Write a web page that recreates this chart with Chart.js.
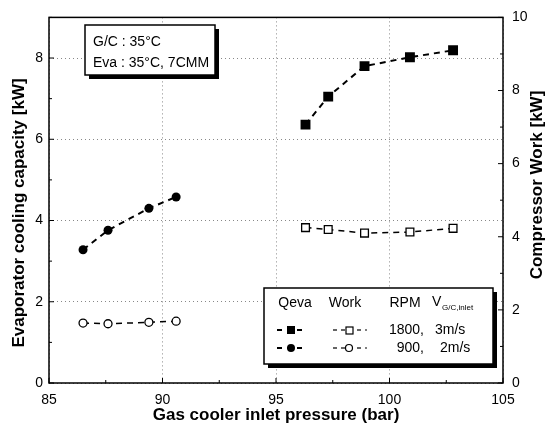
<!DOCTYPE html>
<html>
<head>
<meta charset="utf-8">
<script src="https://cdn.jsdelivr.net/npm/chart.js@4.4.0/dist/chart.umd.min.js"></script>
<style>
  body { margin: 0; background: #fff; }
  #wrap { width: 556px; height: 432px; }
</style>
</head>
<body>
<div id="wrap"><canvas id="chart" width="556" height="432"></canvas></div>
<script>
// pressure (bar) per run
const pressure1800 = [96.3, 97.3, 98.9, 100.9, 102.8];
const pressure900 = [86.5, 87.6, 89.4, 90.6];
// evaporator cooling capacity [kW], left axis
const qeva1800 = [6.36, 7.05, 7.8, 8.02, 8.19];
const qeva900 = [3.28, 3.76, 4.3, 4.58];
// compressor work [kW], right axis
const work1800 = [4.25, 4.2, 4.1, 4.13, 4.23];
const work900 = [1.64, 1.62, 1.66, 1.69];

const xTicks = [85, 90, 95, 100, 105];
const qevaTicks = [0, 2, 4, 6, 8];
const workTicks = [0, 2, 4, 6, 8, 10];

const pts = (xs, ys) => xs.map((x, i) => ({ x: x, y: ys[i] }));
const FONT = 'Liberation Sans, Arial, sans-serif';

const overlay = {
  id: 'overlay',
  afterDraw(chart) {
    const ctx = chart.ctx;
    const a = chart.chartArea;
    const sx = chart.scales.x, sy = chart.scales.y, sy2 = chart.scales.y2;
    ctx.save();
    ctx.strokeStyle = '#000';
    // frame
    ctx.lineWidth = 1.5;
    ctx.strokeRect(a.left, a.top, a.right - a.left, a.bottom - a.top);
    // inward ticks
    ctx.lineWidth = 1;
    for (let v = 85; v <= 105; v += 2.5) {
      const px = sx.getPixelForValue(v);
      const len = v % 5 === 0 ? 5 : 3;
      ctx.beginPath(); ctx.moveTo(px, a.bottom); ctx.lineTo(px, a.bottom - len); ctx.stroke();
    }
    for (let v = 0; v <= 9; v++) {
      const py = sy.getPixelForValue(v);
      const len = v % 2 === 0 ? 5 : 3;
      ctx.beginPath(); ctx.moveTo(a.left, py); ctx.lineTo(a.left + len, py); ctx.stroke();
    }
    for (let v = 0; v <= 10; v++) {
      const py = sy2.getPixelForValue(v);
      const len = v % 2 === 0 ? 5 : 3;
      ctx.beginPath(); ctx.moveTo(a.right, py); ctx.lineTo(a.right - len, py); ctx.stroke();
    }

    // vertical axis titles (both read bottom to top)
    ctx.fillStyle = '#000';
    ctx.font = 'bold 17px ' + FONT;
    ctx.textAlign = 'center';
    ctx.textBaseline = 'middle';
    ctx.save();
    ctx.translate(19, 213); ctx.rotate(-Math.PI / 2);
    ctx.fillText('Evaporator cooling capacity [kW]', 0, 0);
    ctx.restore();
    ctx.save();
    ctx.translate(537, 185); ctx.rotate(-Math.PI / 2);
    ctx.fillText('Compressor Work [kW]', 0, 0);
    ctx.restore();

    // condition box
    const box = (x, y, w, h) => {
      ctx.fillStyle = '#000';
      ctx.fillRect(x + 4, y + 4, w, h);
      ctx.fillStyle = '#fff';
      ctx.fillRect(x, y, w, h);
      ctx.lineWidth = 1.5;
      ctx.strokeRect(x, y, w, h);
    };
    box(85, 25, 130, 50);
    ctx.fillStyle = '#000';
    ctx.font = '14px ' + FONT;
    ctx.textAlign = 'left';
    ctx.textBaseline = 'middle';
    ctx.fillText('G/C : 35°C', 93, 42);
    ctx.fillText('Eva : 35°C, 7CMM', 93, 63);

    // legend table
    box(264, 288, 229, 76);
    ctx.fillStyle = '#000';
    ctx.font = '14px ' + FONT;
    ctx.textAlign = 'center';
    ctx.fillText('Qeva', 295, 303);
    ctx.fillText('Work', 345, 303);
    ctx.fillText('RPM', 405, 303);
    ctx.textAlign = 'left';
    ctx.fillText('V', 432, 302);
    ctx.font = '8px ' + FONT;
    ctx.fillText('G/C,inlet', 442, 308);
    ctx.font = '14px ' + FONT;
    ctx.textAlign = 'right';
    ctx.fillText('1800,', 424, 330);
    ctx.fillText('900,', 424, 348);
    ctx.textAlign = 'left';
    ctx.fillText('3m/s', 435, 330);
    ctx.fillText('2m/s', 440, 348);

    const sample = (x0, x1, y, dash, lw, drawMark) => {
      ctx.save();
      ctx.strokeStyle = '#000';
      ctx.lineWidth = lw;
      ctx.setLineDash(dash);
      ctx.beginPath(); ctx.moveTo(x0, y); ctx.lineTo(x1, y); ctx.stroke();
      ctx.restore();
      drawMark();
    };
    sample(277, 307, 330, [5, 5], 2, () => {
      ctx.fillStyle = '#000'; ctx.fillRect(287, 326, 8, 8);
    });
    sample(277, 307, 348, [5, 5], 2, () => {
      ctx.fillStyle = '#000'; ctx.beginPath(); ctx.arc(291, 348, 4, 0, Math.PI * 2); ctx.fill();
    });
    sample(333, 367, 330, [4, 4], 1.2, () => {
      ctx.fillStyle = '#fff'; ctx.fillRect(346, 327, 7, 7);
      ctx.lineWidth = 1.2; ctx.strokeRect(346, 327, 7, 7);
    });
    sample(333, 367, 348, [4, 4], 1.2, () => {
      ctx.fillStyle = '#fff'; ctx.beginPath(); ctx.arc(349, 348, 3.5, 0, Math.PI * 2);
      ctx.fill(); ctx.lineWidth = 1.2; ctx.stroke();
    });
    ctx.restore();
  }
};

new Chart(document.getElementById('chart'), {
  type: 'line',
  data: {
    datasets: [
      {
        label: 'Qeva 1800', data: pts(pressure1800, qeva1800), yAxisID: 'y',
        borderColor: '#000', backgroundColor: '#000', borderWidth: 2, borderDash: [6, 5],
        pointStyle: 'rect', pointRadius: 7, pointBorderWidth: 0
      },
      {
        label: 'Qeva 900', data: pts(pressure900, qeva900), yAxisID: 'y',
        borderColor: '#000', backgroundColor: '#000', borderWidth: 2, borderDash: [6, 5],
        pointStyle: 'circle', pointRadius: 4.5, pointBorderWidth: 0
      },
      {
        label: 'Work 1800', data: pts(pressure1800, work1800), yAxisID: 'y2',
        borderColor: '#000', backgroundColor: '#fff', borderWidth: 1.5, borderDash: [6, 5],
        pointStyle: 'rect', pointRadius: 5.5, pointBorderWidth: 1.3
      },
      {
        label: 'Work 900', data: pts(pressure900, work900), yAxisID: 'y2',
        borderColor: '#000', backgroundColor: '#fff', borderWidth: 1.5, borderDash: [6, 5],
        pointStyle: 'circle', pointRadius: 4, pointBorderWidth: 1.3
      }
    ]
  },
  options: {
    responsive: false,
    animation: false,
    layout: { padding: { top: 15, left: 0, right: 0, bottom: 0 } },
    plugins: { legend: { display: false }, tooltip: { enabled: false } },
    scales: {
      x: {
        type: 'linear', min: 85, max: 105,
        afterFit: s => { s.height = 49; },
        afterBuildTicks: s => { s.ticks = xTicks.map(v => ({ value: v })); },
        border: { display: false, dash: [1, 3] },
        grid: { color: '#888', drawTicks: false },
        ticks: { color: '#000', padding: 9, font: { family: FONT, size: 14 } },
        title: {
          display: true, text: 'Gas cooler inlet pressure (bar)', color: '#000',
          padding: { top: 0, bottom: 6 }, font: { family: FONT, size: 17, weight: 'bold' }
        }
      },
      y: {
        position: 'left', min: 0, max: 9,
        afterFit: s => { s.width = 49; },
        afterBuildTicks: s => { s.ticks = qevaTicks.map(v => ({ value: v })); },
        border: { display: false, dash: [1, 3] },
        grid: { color: '#888', drawTicks: false },
        ticks: { color: '#000', padding: 6, font: { family: FONT, size: 14 } }
      },
      y2: {
        position: 'right', min: 0, max: 10,
        afterFit: s => { s.width = 53; },
        afterBuildTicks: s => { s.ticks = workTicks.map(v => ({ value: v })); },
        border: { display: false },
        grid: { drawOnChartArea: false, drawTicks: false },
        ticks: { color: '#000', padding: 9, font: { family: FONT, size: 14 } }
      }
    }
  },
  plugins: [overlay]
});
</script>
</body>
</html>
